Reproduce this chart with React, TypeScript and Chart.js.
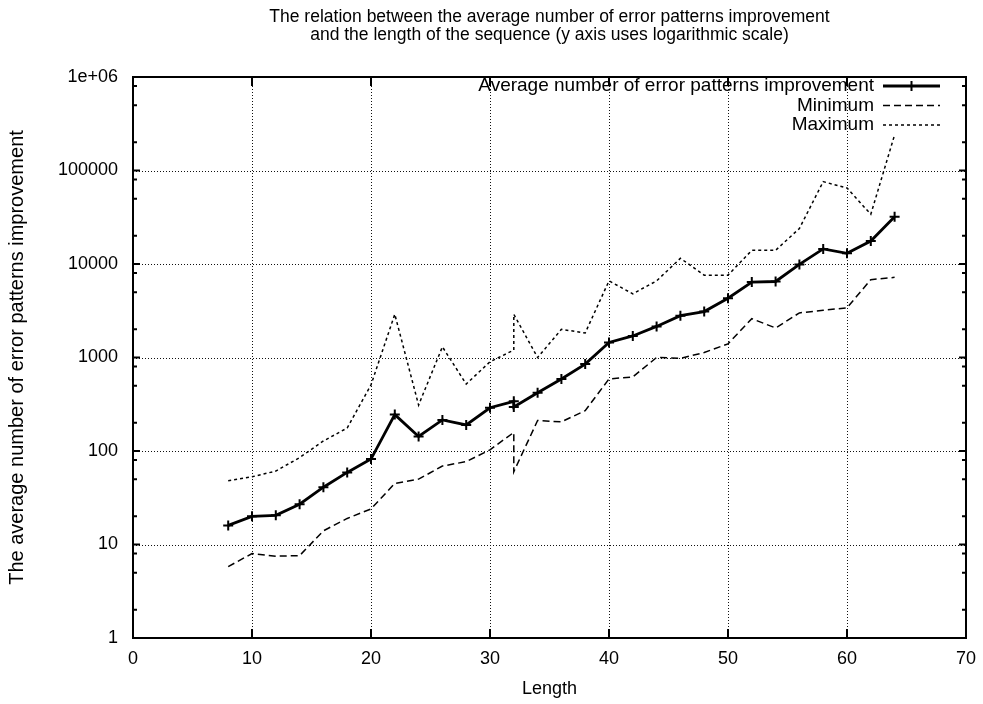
import React, { useEffect, useRef } from "react";
import { Chart, registerables } from "chart.js";

Chart.register(...registerables);

// ---- data ----
const lengths = [8, 10, 12, 14, 16, 18, 20, 22, 24, 26, 28, 30, 32, 32, 34, 36, 38, 40, 42, 44, 46, 48, 50, 52, 54, 56, 58, 60, 62, 64];
const averageValues = [16, 20, 20.5, 27, 41, 59, 82, 245, 143, 215, 190, 290, 340, 295, 420, 590, 850, 1450, 1700, 2150, 2800, 3100, 4300, 6400, 6500, 9900, 14500, 13000, 17600, 32000];
const minimumValues = [5.8, 8, 7.5, 7.6, 14, 19, 24, 45, 50, 69, 77, 103, 158, 60, 212, 205, 270, 590, 620, 1000, 980, 1130, 1400, 2600, 2070, 3000, 3200, 3400, 6800, 7200];
const maximumValues = [48, 53, 61, 85, 128, 176, 510, 2900, 310, 1300, 520, 900, 1200, 2900, 1000, 2000, 1830, 6600, 4800, 6600, 11500, 7600, 7600, 14000, 14000, 24000, 76000, 65000, 34000, 240000];

const xTickValues = [0, 10, 20, 30, 40, 50, 60, 70];
const yTickValues = [1, 10, 100, 1000, 10000, 100000, 1000000];
const yTickLabels = ["1", "10", "100", "1000", "10000", "100000", "1e+06"];
const yMinorFactors = [2, 5, 8];

const titleLines = [
  "The relation between the average number of error patterns improvement",
  "and the length of the sequence (y axis uses logarithmic scale)",
];
const seriesLabels = ["Average number of error patterns improvement", "Minimum", "Maximum"];
const xAxisTitle = "Length";
const yAxisTitle = "The average number of error patterns improvement";

const FONT = "'Liberation Sans', Arial, Helvetica, sans-serif";

const gnuplotPlugin = {
  id: "gnuplotFrame",
  beforeDatasetsDraw(chart: any) {
    const { ctx, chartArea: a, scales } = chart;
    const xs = scales.x;
    const ys = scales.y;
    ctx.save();
    ctx.strokeStyle = "#111";
    ctx.lineWidth = 1;
    ctx.setLineDash([1, 2]);
    xTickValues.forEach((v) => {
      if (v <= xs.min || v >= xs.max) return;
      const px = Math.round(xs.getPixelForValue(v)) + 0.5;
      ctx.beginPath();
      ctx.moveTo(px, a.top);
      ctx.lineTo(px, a.bottom);
      ctx.stroke();
    });
    yTickValues.forEach((v) => {
      if (v <= ys.min || v >= ys.max) return;
      const py = Math.round(ys.getPixelForValue(v)) + 0.5;
      ctx.beginPath();
      ctx.moveTo(a.left, py);
      ctx.lineTo(a.right, py);
      ctx.stroke();
    });
    ctx.restore();
  },
  afterDatasetsDraw(chart: any) {
    const { ctx, chartArea: a, scales } = chart;
    const xs = scales.x;
    const ys = scales.y;
    ctx.save();
    ctx.setLineDash([]);
    ctx.strokeStyle = "#000";
    // inward ticks
    ctx.lineWidth = 2;
    xTickValues.forEach((v) => {
      if (v <= xs.min || v >= xs.max) return;
      const px = xs.getPixelForValue(v);
      ctx.beginPath();
      ctx.moveTo(px, a.bottom);
      ctx.lineTo(px, a.bottom - 9);
      ctx.moveTo(px, a.top);
      ctx.lineTo(px, a.top + 9);
      ctx.stroke();
    });
    yTickValues.forEach((v, i) => {
      const py = ys.getPixelForValue(v);
      if (v > ys.min && v < ys.max) {
        ctx.beginPath();
        ctx.moveTo(a.left, py);
        ctx.lineTo(a.left + 7, py);
        ctx.moveTo(a.right, py);
        ctx.lineTo(a.right - 7, py);
        ctx.stroke();
      }
      if (i < yTickValues.length - 1) {
        yMinorFactors.forEach((f) => {
          const my = ys.getPixelForValue(v * f);
          ctx.beginPath();
          ctx.moveTo(a.left, my);
          ctx.lineTo(a.left + 4, my);
          ctx.moveTo(a.right, my);
          ctx.lineTo(a.right - 4, my);
          ctx.stroke();
        });
      }
    });
    // frame
    ctx.lineWidth = 2;
    ctx.strokeRect(a.left, a.top, a.right - a.left, a.bottom - a.top);

    // legend (gnuplot style: right-aligned text, sample on the right)
    ctx.font = `19px ${FONT}`;
    ctx.fillStyle = "#000";
    ctx.textAlign = "right";
    ctx.textBaseline = "middle";
    chart.data.datasets.forEach((ds: any, i: number) => {
      const y = a.top + 9 + i * 19.5;
      ctx.fillText(ds.label, a.right - 92, y);
      const x0 = a.right - 83;
      const x1 = a.right - 26;
      ctx.save();
      ctx.strokeStyle = ds.borderColor;
      ctx.lineWidth = ds.borderWidth;
      ctx.setLineDash(ds.borderDash || []);
      ctx.beginPath();
      ctx.moveTo(x0, y);
      ctx.lineTo(x1, y);
      ctx.stroke();
      if (ds.pointRadius > 0) {
        ctx.setLineDash([]);
        ctx.lineWidth = ds.pointBorderWidth;
        const cx = (x0 + x1) / 2;
        const r = ds.pointRadius;
        ctx.beginPath();
        ctx.moveTo(cx - r, y);
        ctx.lineTo(cx + r, y);
        ctx.moveTo(cx, y - r);
        ctx.lineTo(cx, y + r);
        ctx.stroke();
      }
      ctx.restore();
    });
    ctx.restore();
  },
};

export default function App() {
  const canvasRef = useRef<HTMLCanvasElement | null>(null);

  useEffect(() => {
    document.body.style.margin = "0";
    const canvas = canvasRef.current;
    if (!canvas) return;
    const toPoints = (vals: number[]) => lengths.map((x, i) => ({ x, y: vals[i] }));
    const chart = new Chart(canvas, {
      type: "line",
      data: {
        datasets: [
          {
            label: seriesLabels[0],
            data: toPoints(averageValues),
            borderColor: "#000",
            backgroundColor: "#000",
            borderWidth: 2.8,
            pointStyle: "cross",
            pointRadius: 5,
            pointBorderWidth: 2,
            pointBorderColor: "#000",
            tension: 0,
            fill: false,
          },
          {
            label: seriesLabels[1],
            data: toPoints(minimumValues),
            borderColor: "#000",
            borderWidth: 1.5,
            borderDash: [7, 4],
            pointRadius: 0,
            tension: 0,
            fill: false,
          },
          {
            label: seriesLabels[2],
            data: toPoints(maximumValues),
            borderColor: "#000",
            borderWidth: 1.5,
            borderDash: [3, 3],
            pointRadius: 0,
            tension: 0,
            fill: false,
          },
        ],
      },
      options: {
        responsive: false,
        animation: false,
        devicePixelRatio: 1,
        layout: { padding: { left: 0, right: 17, top: 0, bottom: 0 } },
        plugins: {
          legend: { display: false },
          tooltip: { enabled: false },
          title: {
            display: true,
            text: titleLines,
            fullSize: false,
            color: "#000",
            font: { family: FONT, size: 17.5, weight: "normal", lineHeight: "18px" },
            padding: { top: 8, bottom: 33 },
          },
        },
        scales: {
          x: {
            type: "linear",
            min: 0,
            max: 70,
            afterBuildTicks: (s: any) => {
              s.ticks = xTickValues.map((v) => ({ value: v }));
            },
            afterFit: (s: any) => {
              s.height = 66;
              s.paddingLeft = 0;
              s.paddingRight = 0;
            },
            grid: { display: false, drawTicks: false },
            border: { display: false },
            ticks: {
              color: "#000",
              padding: 10,
              maxRotation: 0,
              autoSkip: false,
              font: { family: FONT, size: 18 },
              callback: (v: any) => String(v),
            },
            title: {
              display: true,
              text: xAxisTitle,
              color: "#000",
              font: { family: FONT, size: 18 },
              padding: { top: 0, bottom: 4 },
            },
          },
          y: {
            type: "logarithmic",
            min: 1,
            max: 1000000,
            afterBuildTicks: (s: any) => {
              s.ticks = yTickValues.map((v) => ({ value: v }));
            },
            afterFit: (s: any) => {
              s.width = 133;
            },
            grid: { display: false, drawTicks: false },
            border: { display: false },
            ticks: {
              color: "#000",
              padding: 15,
              autoSkip: false,
              font: { family: FONT, size: 18 },
              callback: (_v: any, i: number) => yTickLabels[i],
            },
            title: {
              display: true,
              text: yAxisTitle,
              color: "#000",
              font: { family: FONT, size: 20 },
              padding: { top: 5, bottom: 0 },
            },
          },
        },
      },
      plugins: [gnuplotPlugin],
    } as any);
    return () => chart.destroy();
  }, []);

  return (
    <div style={{ width: 983, height: 704, background: "#fff" }}>
      <canvas ref={canvasRef} width={983} height={704} style={{ display: "block" }} />
    </div>
  );
}
